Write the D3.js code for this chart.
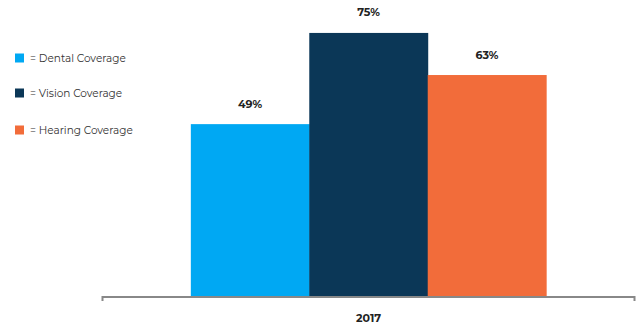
<!DOCTYPE html>
<html>
<head>
<meta charset="utf-8">
<script src="https://cdn.jsdelivr.net/npm/d3@7"></script>
<style>
  body { margin: 0; background: #fff; }
  text { font-family: "Montserrat", "Lato", "Open Sans", sans-serif; }
</style>
</head>
<body>
<script>
// Data
const years = ["2017"];
const series = ["Dental Coverage", "Vision Coverage", "Hearing Coverage"];
const values2017 = [49, 75, 63];
const colors = ["#00a8f3", "#0b3757", "#f26c3a"];

const width = 636, height = 325;

const svg = d3.select("body")
  .append("svg")
    .attr("width", width)
    .attr("height", height);

// Scales
const x = d3.scaleBand()
    .domain(years)
    .range([102, 635])
    .paddingInner(0)
    .paddingOuter(0.25);

const xSub = d3.scaleBand()
    .domain(series)
    .range([0, x.bandwidth()]);

const y = d3.scaleLinear()
    .domain([0, 80])
    .range([296, 15.4]);

// Bars
const g = svg.append("g")
    .attr("transform", "translate(" + x("2017") + ",0)");

g.selectAll("rect")
    .data(values2017)
    .enter()
    .append("rect")
      .attr("x", (d, i) => xSub(series[i]))
      .attr("y", d => y(d))
      .attr("width", xSub.bandwidth() + 0.5)
      .attr("height", d => y(0) - y(d))
      .style("fill", (d, i) => colors[i]);

// Value labels
g.selectAll("text.val")
    .data(values2017)
    .enter()
    .append("text")
      .attr("class", "val")
      .attr("x", (d, i) => xSub(series[i]) + xSub.bandwidth() / 2)
      .attr("y", d => y(d) - 16.5)
      .attr("text-anchor", "middle")
      .style("font-size", "11px")
      .style("font-weight", "bold")
      .style("fill", "#222")
      .text(d => d + "%");

// X axis as a bracket line
const axis = svg.append("g")
    .attr("transform", "translate(0," + 297 + ")")
    .call(d3.axisBottom(x).tickSize(0).tickSizeOuter(-4).tickPadding(17));
axis.select(".domain")
    .attr("stroke", "#888")
    .attr("stroke-width", 2)
    .attr("d", "M102.5,4V0H634.5V4");
axis.selectAll(".tick text")
    .style("font-size", "11px")
    .style("font-weight", "bold")
    .style("font-family", "Montserrat, Lato, 'Open Sans', sans-serif")
    .style("fill", "#222");

// Legend
const legendY = [58, 93, 130];
const legend = svg.append("g");
series.forEach(function(s, i) {
  legend.append("rect")
      .attr("x", 15)
      .attr("y", legendY[i] - 4.5)
      .attr("width", 9)
      .attr("height", 9)
      .style("fill", colors[i]);
  legend.append("text")
      .attr("x", 30)
      .attr("y", legendY[i])
      .attr("dy", "0.35em")
      .style("font-size", "10.5px")
      .style("fill", "#333")
      .text("= " + s);
});
</script>
</body>
</html>
